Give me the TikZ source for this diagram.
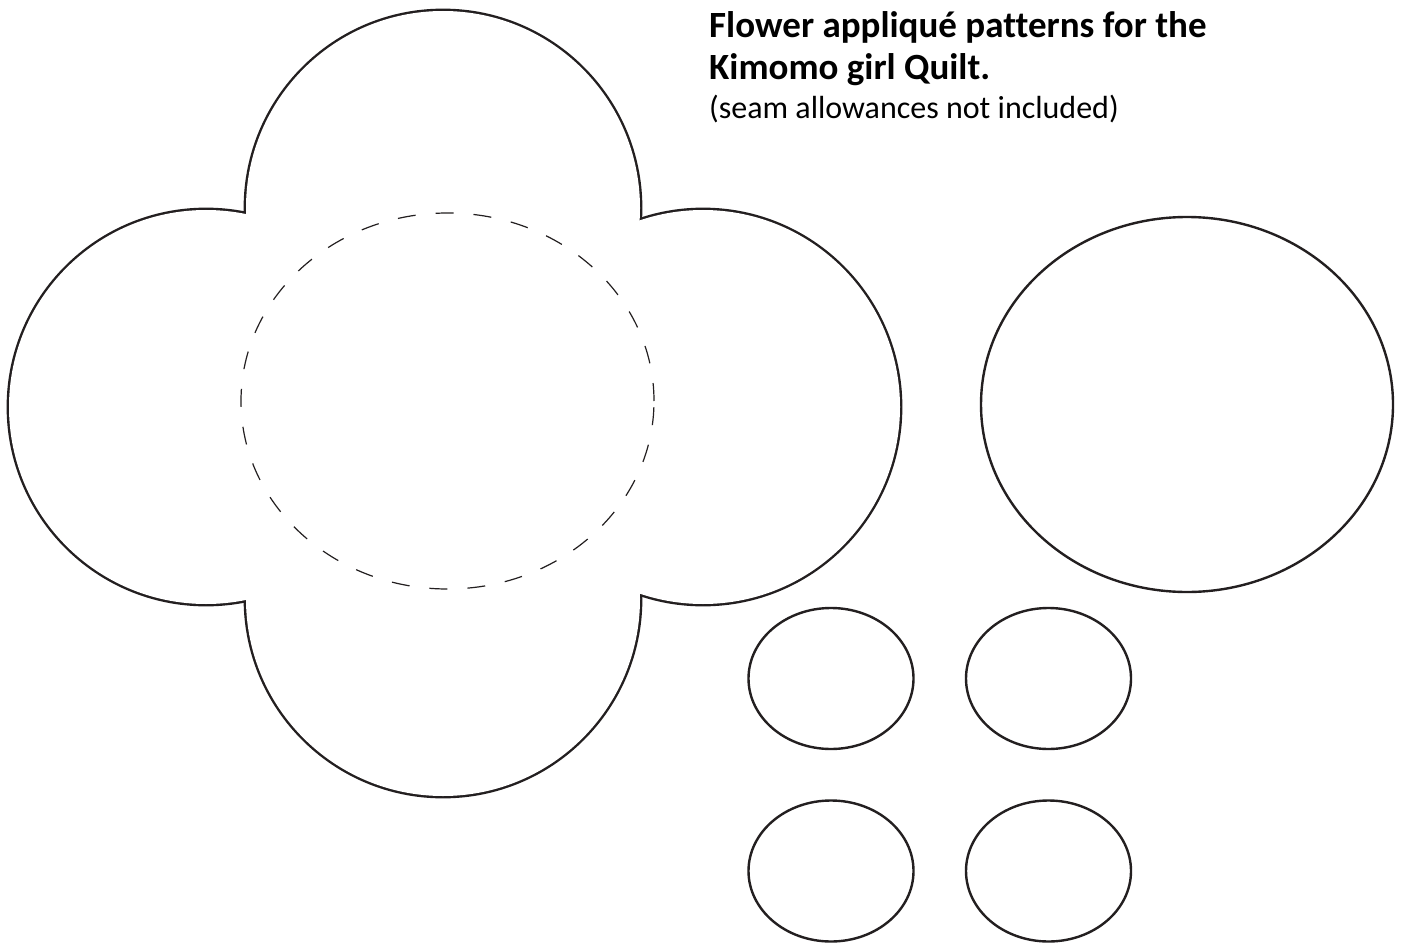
\documentclass[tikz,border=0pt]{standalone}
\usepackage{fontspec}
\setmainfont{Carlito}[Ligatures=CommonOff]
\definecolor{ink}{HTML}{231F20}
\begin{document}
\begin{tikzpicture}[x=1pt,y=-1pt,
  outline/.style={draw=ink,line width=2.4pt},
  petalstroke/.style={draw=ink,line width=4.8pt},
  seam/.style={draw=ink,line width=1.2pt,dash pattern=on 18pt off 20pt},
  title/.style={anchor=base west,inner sep=0pt,text=black,font=\bfseries\fontsize{37}{44}\selectfont},
  note/.style={anchor=base west,inner sep=0pt,text=black,font=\fontsize{32}{38}\selectfont}]
\useasboundingbox (0,0) rectangle (1405,944);
\fill[white] (0,0) rectangle (1405,944);
% flower: union of four circles
\foreach \cx/\cy in {443/208, 443/599, 206/407, 703/407}{
  \draw[petalstroke] (\cx,\cy) circle[radius=197pt];
}
\foreach \cx/\cy in {443/208, 443/599, 206/407, 703/407}{
  \fill[white] (\cx,\cy) circle[radius=197pt];
}
\fill[white] (443,208) -- (703,407) -- (443,599) -- (206,407) -- cycle;
% centre (dashed)
\draw[seam] (447.5,401) ellipse[x radius=206.5pt, y radius=188pt];
% large ellipse
\draw[outline] (1187,404.5) ellipse[x radius=206pt, y radius=187.5pt];
% small ellipses
\foreach \cx/\cy in {831/678.5, 1048.5/678.5, 831/871, 1048.5/871}{
  \draw[outline] (\cx,\cy) ellipse[x radius=82.5pt, y radius=70.5pt];
}
% text
\node[title] (t1) at (709,38) {Flower appliqué patterns for the};
\node[title] (t2) at (709,80) {Kimomo girl Quilt.};
\node[note] (t3) at (709,119) {(seam allowances not included)};
\end{tikzpicture}
\end{document}
